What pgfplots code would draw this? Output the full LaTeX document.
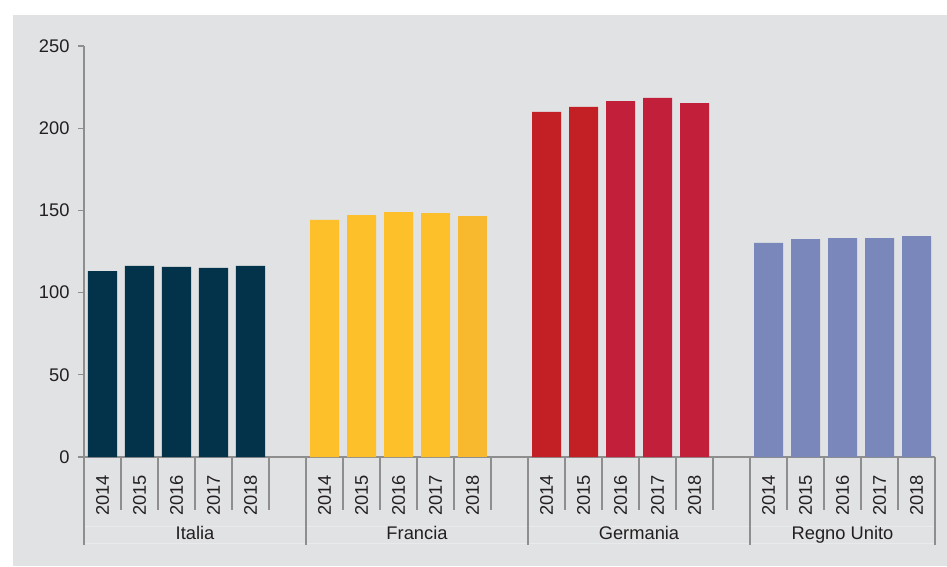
\documentclass[border=0pt]{standalone}
\usepackage{fontspec}
\setmainfont{Liberation Sans}
\usepackage{pgfplots}
\pgfplotsset{compat=1.18}
\definecolor{bgc}{HTML}{E1E2E4}
\definecolor{axc}{HTML}{8E8E8E}
\definecolor{txt}{HTML}{231F20}
\definecolor{ita}{HTML}{03334B}
\definecolor{fra}{HTML}{FDBF2A}
\definecolor{frb}{HTML}{F9B92E}
\definecolor{gea}{HTML}{C22025}
\definecolor{geb}{HTML}{C2203A}
\definecolor{uk}{HTML}{7A87BB}
\definecolor{faint}{HTML}{E9EAEC}
\begin{document}
\begin{tikzpicture}[x=1pt,y=1pt]
\fill[white] (0,0) rectangle (947,566);
\fill[bgc] (13,0) rectangle (947,551);
\begin{axis}[
  at={(84pt,109pt)}, anchor=south west,
  scale only axis, width=851pt, height=411pt,
  xmin=0, xmax=23, ymin=0, ymax=250,
  axis x line=bottom, axis y line=left,
  axis line style={draw=axc, line width=1.6pt, -},
  ytick={0,50,100,150,200,250},
  tick align=outside, major tick length=6pt,
  ytick style={draw=axc, line width=1.2pt},
  xtick={0.5,1.5,2.5,3.5,4.5, 6.5,7.5,8.5,9.5,10.5, 12.5,13.5,14.5,15.5,16.5, 18.5,19.5,20.5,21.5,22.5},
  xticklabels={2014,2015,2016,2017,2018,2014,2015,2016,2017,2018,2014,2015,2016,2017,2018,2014,2015,2016,2017,2018},
  xtick style={draw=none},
  tick label style={font=\fontsize{18.3}{20}\selectfont, text=txt},
  x tick label style={rotate=90, anchor=east, inner xsep=12pt},
  y tick label style={xshift=-5pt},
  /pgf/number format/assume math mode=true,
  ybar, bar width=0.784, bar shift=0pt,
  clip=false,
]
\addplot[fill=ita, draw=none] coordinates {(0.5,113.1) (1.5,116.2) (2.5,115.6) (3.5,115.0) (4.5,116.2)};
\addplot[fill=fra, draw=none] coordinates {(6.5,144.2) (7.5,147.2) (8.5,149.0) (9.5,148.4)};
\addplot[fill=frb, draw=none] coordinates {(10.5,146.6)};
\addplot[fill=gea, draw=none] coordinates {(12.5,209.9) (13.5,212.9)};
\addplot[fill=geb, draw=none] coordinates {(14.5,216.5) (15.5,218.4) (16.5,215.3)};
\addplot[fill=uk, draw=none] coordinates {(18.5,130.2) (19.5,132.6) (20.5,133.2) (21.5,133.2) (22.5,134.4)};
\draw[faint, line width=0.8pt] (axis cs:0,0) ++(0,-69pt) -- ++(851pt,0);
\draw[faint, line width=0.8pt] (axis cs:0,0) ++(0,-86pt) -- ++(851pt,0);
\pgfplotsinvokeforeach{1,2,3,4,5,7,8,9,10,11,13,14,15,16,17,19,20,21,22}{
  \draw[axc, line width=1.2pt] (axis cs:#1,0) -- ++(0,-53pt);
}
\pgfplotsinvokeforeach{0,6,12,18,23}{
  \draw[axc, line width=1.2pt] (axis cs:#1,0) -- ++(0,-88pt);
}
\node[text=txt, font=\fontsize{18.3}{20}\selectfont, anchor=base] at (axis cs:3,0) [yshift=-82pt] {Italia};
\node[text=txt, font=\fontsize{18.3}{20}\selectfont, anchor=base] at (axis cs:9,0) [yshift=-82pt] {Francia};
\node[text=txt, font=\fontsize{18.3}{20}\selectfont, anchor=base] at (axis cs:15,0) [yshift=-82pt] {Germania};
\node[text=txt, font=\fontsize{18.3}{20}\selectfont, anchor=base] at (axis cs:20.5,0) [yshift=-82pt] {Regno Unito};
\end{axis}
\end{tikzpicture}
\end{document}
